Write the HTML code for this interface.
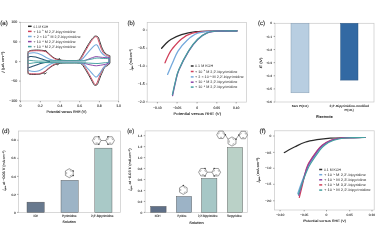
<!DOCTYPE html><html><head><meta charset="utf-8"><style>html,body{margin:0;padding:0;background:#fff;width:380px;height:245px;overflow:hidden}svg{display:block}</style></head><body>
<svg width="380" height="245" viewBox="0 0 380 245" text-rendering="geometricPrecision" font-family='"Liberation Sans", sans-serif'>
<defs><filter id="bg" x="-5%" y="-5%" width="110%" height="110%"><feGaussianBlur stdDeviation="0.42"/></filter><filter id="bt" x="-5%" y="-5%" width="110%" height="110%"><feGaussianBlur stdDeviation="0.32"/></filter></defs>
<rect width="380" height="245" fill="#fff"/>
<g filter="url(#bg)">
<rect x="20.4" y="22.5" width="98.3" height="78.5" fill="none" stroke="#c8c8c8" stroke-width="0.7"/>
<line x1="19.1" y1="22.3" x2="20.4" y2="22.3" stroke="#333" stroke-width="0.45"/>
<line x1="19.1" y1="41.9" x2="20.4" y2="41.9" stroke="#333" stroke-width="0.45"/>
<line x1="19.1" y1="61.6" x2="20.4" y2="61.6" stroke="#333" stroke-width="0.45"/>
<line x1="19.1" y1="81.1" x2="20.4" y2="81.1" stroke="#333" stroke-width="0.45"/>
<line x1="19.1" y1="100.8" x2="20.4" y2="100.8" stroke="#333" stroke-width="0.45"/>
<line x1="20.5" y1="101" x2="20.5" y2="102.3" stroke="#333" stroke-width="0.45"/>
<line x1="40.3" y1="101" x2="40.3" y2="102.3" stroke="#333" stroke-width="0.45"/>
<line x1="60" y1="101" x2="60" y2="102.3" stroke="#333" stroke-width="0.45"/>
<line x1="79.7" y1="101" x2="79.7" y2="102.3" stroke="#333" stroke-width="0.45"/>
<line x1="99.4" y1="101" x2="99.4" y2="102.3" stroke="#333" stroke-width="0.45"/>
<line x1="118.6" y1="101" x2="118.6" y2="102.3" stroke="#333" stroke-width="0.45"/>
<path d="M28 53.35 C28.1 53.07 28.22 52.12 28.6 51.65 C28.98 51.18 28.97 50.82 30.3 50.55 C31.63 50.28 34.5 50.07 36.6 50.05 C38.7 50.03 41.32 50.25 42.9 50.45 C44.48 50.65 44.87 50.5 46.1 51.25 C47.33 52 48.9 53.8 50.3 54.95 C51.7 56.1 53.1 57.38 54.5 58.15 C55.9 58.92 57.3 59.18 58.7 59.55 C60.1 59.92 61.02 60.18 62.9 60.35 C64.78 60.52 67.48 60.55 70 60.55 C72.52 60.55 76.33 60.65 78 60.35 C79.67 60.05 79.1 59.98 80 58.75 C80.9 57.52 82.17 55.08 83.4 52.95 C84.63 50.82 86.07 48.17 87.4 45.95 C88.73 43.73 90.27 41.2 91.4 39.65 C92.53 38.1 93.53 37.25 94.2 36.65 C94.87 36.05 94.75 35.98 95.4 36.05 C96.05 36.12 97.37 36.13 98.1 37.05 C98.83 37.97 99.25 40 99.8 41.55 C100.35 43.1 100.75 44.72 101.4 46.35 C102.05 47.98 102.85 50.03 103.7 51.35 C104.55 52.67 105.47 53.52 106.5 54.25 C107.53 54.98 109.33 55.5 109.9 55.75 L109.9 63.05 C109.62 63.4 108.8 64.62 108.2 65.15 C107.6 65.68 106.97 65.78 106.3 66.25 C105.63 66.72 104.82 67.05 104.2 67.95 C103.58 68.85 103.17 70.37 102.6 71.65 C102.03 72.93 101.47 74.02 100.8 75.65 C100.13 77.28 99.2 79.95 98.6 81.45 C98 82.95 97.83 84.02 97.2 84.65 C96.57 85.28 95.38 85.32 94.8 85.25 C94.22 85.18 94.43 85.43 93.7 84.25 C92.97 83.07 91.62 80.33 90.4 78.15 C89.18 75.97 87.85 73.48 86.4 71.15 C84.95 68.82 83.1 65.5 81.7 64.15 C80.3 62.8 79.95 63.25 78 63.05 C76.05 62.85 72.52 62.95 70 62.95 C67.48 62.95 64.85 62.93 62.9 63.05 C60.95 63.17 59.52 63.43 58.3 63.65 C57.08 63.87 56.58 63.97 55.6 64.35 C54.62 64.73 53.63 65.17 52.4 65.95 C51.17 66.73 49.35 68.13 48.2 69.05 C47.05 69.97 46.38 70.77 45.5 71.45 C44.62 72.13 43.82 72.7 42.9 73.15 C41.98 73.6 41.05 73.93 40 74.15 C38.95 74.37 38.27 74.42 36.6 74.45 C34.93 74.48 31.33 74.47 30 74.35 C28.67 74.23 28.93 74.12 28.6 73.75 C28.27 73.38 28.1 72.42 28 72.15Z" fill="none" stroke="#2b2b2b" stroke-width="0.9" stroke-linejoin="round" stroke-linecap="round"/>
<path d="M44.3 51.2 L45.6 50.5 L46.9 51.6 M58.0 59.6 L59.3 58.3 L60.4 60.2 M43.7 73.4 L45.0 74.1 L46.3 72.8 M56.4 64.0 L57.7 65.0 L58.8 63.6" fill="none" stroke="#2b2b2b" stroke-width="0.85" stroke-linejoin="round" stroke-linecap="round"/>
<path d="M28 54 C28.1 53.72 28.22 52.77 28.6 52.3 C28.98 51.83 28.97 51.47 30.3 51.2 C31.63 50.93 34.5 50.72 36.6 50.7 C38.7 50.68 41.32 50.9 42.9 51.1 C44.48 51.3 44.87 51.15 46.1 51.9 C47.33 52.65 48.9 54.45 50.3 55.6 C51.7 56.75 53.1 58.03 54.5 58.8 C55.9 59.57 57.3 59.83 58.7 60.2 C60.1 60.57 61.02 60.83 62.9 61 C64.78 61.17 67.48 61.2 70 61.2 C72.52 61.2 76.23 61.3 78 61 C79.77 60.7 79.6 60.63 80.6 59.4 C81.6 58.17 82.77 55.73 84 53.6 C85.23 51.47 86.67 48.82 88 46.6 C89.33 44.38 90.87 41.85 92 40.3 C93.13 38.75 94.13 37.9 94.8 37.3 C95.47 36.7 95.58 36.63 96 36.7 C96.42 36.77 96.8 36.78 97.3 37.7 C97.8 38.62 98.45 40.65 99 42.2 C99.55 43.75 99.95 45.37 100.6 47 C101.25 48.63 102.05 50.68 102.9 52 C103.75 53.32 104.67 54.17 105.7 54.9 C106.73 55.63 108.53 56.15 109.1 56.4 L109.1 62.4 C108.82 62.75 108 63.97 107.4 64.5 C106.8 65.03 106.17 65.13 105.5 65.6 C104.83 66.07 104.02 66.4 103.4 67.3 C102.78 68.2 102.37 69.72 101.8 71 C101.23 72.28 100.67 73.37 100 75 C99.33 76.63 98.4 79.3 97.8 80.8 C97.2 82.3 96.8 83.37 96.4 84 C96 84.63 95.75 84.67 95.4 84.6 C95.05 84.53 95.03 84.78 94.3 83.6 C93.57 82.42 92.22 79.68 91 77.5 C89.78 75.32 88.45 72.83 87 70.5 C85.55 68.17 83.8 64.85 82.3 63.5 C80.8 62.15 80.05 62.6 78 62.4 C75.95 62.2 72.52 62.3 70 62.3 C67.48 62.3 64.85 62.28 62.9 62.4 C60.95 62.52 59.52 62.78 58.3 63 C57.08 63.22 56.58 63.32 55.6 63.7 C54.62 64.08 53.63 64.52 52.4 65.3 C51.17 66.08 49.35 67.48 48.2 68.4 C47.05 69.32 46.38 70.12 45.5 70.8 C44.62 71.48 43.82 72.05 42.9 72.5 C41.98 72.95 41.05 73.28 40 73.5 C38.95 73.72 38.27 73.77 36.6 73.8 C34.93 73.83 31.33 73.82 30 73.7 C28.67 73.58 28.93 73.47 28.6 73.1 C28.27 72.73 28.1 71.77 28 71.5Z" fill="none" stroke="#d0405a" stroke-width="0.9" stroke-linejoin="round" stroke-linecap="round"/>
<path d="M28 54.6 C28.17 54.38 27.92 53.6 29 53.3 C30.08 53 32.53 52.62 34.5 52.8 C36.47 52.98 38.68 53.53 40.8 54.4 C42.92 55.27 45.27 57.05 47.2 58 C49.13 58.95 50.77 59.6 52.4 60.1 C54.03 60.6 55.07 60.8 57 61 C58.93 61.2 60.83 61.27 64 61.3 C67.17 61.33 73.33 61.33 76 61.2 C78.67 61.07 78.87 60.93 80 60.5 C81.13 60.07 81.8 59.55 82.8 58.6 C83.8 57.65 84.8 56.2 86 54.8 C87.2 53.4 88.75 51.62 90 50.2 C91.25 48.78 92.6 47.18 93.5 46.3 C94.4 45.42 94.9 45.17 95.4 44.9 C95.9 44.63 96.13 44.58 96.5 44.7 C96.87 44.82 97.13 44.88 97.6 45.6 C98.07 46.32 98.73 47.92 99.3 49 C99.87 50.08 100.12 50.98 101 52.1 C101.88 53.22 103.6 54.9 104.6 55.7 C105.6 56.5 106.25 56.6 107 56.9 C107.75 57.2 108.75 57.4 109.1 57.5 L109.1 62.8 C108.58 63.17 107.12 63.92 106 65 C104.88 66.08 103.48 67.87 102.4 69.3 C101.32 70.73 100.33 72.43 99.5 73.6 C98.67 74.77 97.93 75.73 97.4 76.3 C96.87 76.87 96.65 76.92 96.3 77 C95.95 77.08 95.77 77.13 95.3 76.8 C94.83 76.47 94.3 75.87 93.5 75 C92.7 74.13 91.58 72.8 90.5 71.6 C89.42 70.4 88.08 69 87 67.8 C85.92 66.6 85 65.18 84 64.4 C83 63.62 82 63.42 81 63.1 C80 62.78 79.83 62.63 78 62.5 C76.17 62.37 73 62.35 70 62.3 C67 62.25 62.58 62.15 60 62.2 C57.42 62.25 56.47 62.08 54.5 62.6 C52.53 63.12 50.22 64.23 48.2 65.3 C46.18 66.37 43.93 68.08 42.4 69 C40.87 69.92 40.32 70.38 39 70.8 C37.68 71.22 36.2 71.53 34.5 71.5 C32.8 71.47 29.88 70.93 28.8 70.6 C27.72 70.27 28.13 69.68 28 69.5Z" fill="none" stroke="#74a9dc" stroke-width="1.05" stroke-linejoin="round" stroke-linecap="round"/>
<path d="M60 61.7 C63 61.67 74 61.65 78 61.5 C82 61.35 82 61.3 84 60.8 C86 60.3 88.17 59.17 90 58.5 C91.83 57.83 93.82 57.12 95 56.8 C96.18 56.48 96.27 56.55 97.1 56.6 C97.93 56.65 98.68 56.93 100 57.1 C101.32 57.27 103.48 57.48 105 57.6 C106.52 57.72 108.42 57.77 109.1 57.8" fill="none" stroke="#8a44a8" stroke-width="0.95" stroke-linejoin="round" stroke-linecap="round"/>
<path d="M60 62 C63 62.07 74 62.17 78 62.4 C82 62.63 82 63 84 63.4 C86 63.8 88.17 64.42 90 64.8 C91.83 65.18 93.67 65.57 95 65.7 C96.33 65.83 96.67 65.75 98 65.6 C99.33 65.45 101.5 65.1 103 64.8 C104.5 64.5 105.98 64.18 107 63.8 C108.02 63.42 108.75 62.72 109.1 62.5" fill="none" stroke="#8a44a8" stroke-width="0.95" stroke-linejoin="round" stroke-linecap="round"/>
<path d="M109.1 57.8 L109.1 62.5" fill="none" stroke="#8a44a8" stroke-width="0.9" stroke-linejoin="round" stroke-linecap="round"/>
<path d="M28 57.5 C28.38 57.33 29.03 56.58 30.3 56.5 C31.57 56.42 33.67 56.57 35.6 57 C37.53 57.43 39.8 58.42 41.9 59.1 C44 59.78 46.02 60.67 48.2 61.1 C50.38 61.53 53.03 61.6 55 61.7 C56.97 61.8 59.17 61.7 60 61.7" fill="none" stroke="#23506e" stroke-width="1.1" stroke-linejoin="round" stroke-linecap="round"/>
<path d="M28 67.9 C28.5 67.75 29.83 67.4 31 67 C32.17 66.6 33.53 66.05 35 65.5 C36.47 64.95 38.3 64.17 39.8 63.7 C41.3 63.23 42.6 62.97 44 62.7 C45.4 62.43 45.53 62.22 48.2 62.1 C50.87 61.98 58.03 62.02 60 62" fill="none" stroke="#23506e" stroke-width="1.1" stroke-linejoin="round" stroke-linecap="round"/>
<path d="M50 60.8 C55 60.7 60 60.6 70 60.6 C78 60.6 82 60.6 86 60.2 L86 62.9 C82 62.9 78 62.9 70 62.9 C60 62.9 55 62.8 50 62.7Z" fill="#9fd0d0" opacity="0.8"/>
<path d="M28 60.3 C28.5 60.33 29.67 60.38 31 60.5 C32.33 60.62 34.17 60.9 36 61 C37.83 61.1 39.67 61.13 42 61.1 C44.33 61.07 47 60.88 50 60.8 C53 60.72 55 60.63 60 60.6 C65 60.57 75.67 60.67 80 60.6 C84.33 60.53 84 60.47 86 60.2 C88 59.93 90.17 59.37 92 59 C93.83 58.63 95.33 58.1 97 58 C98.67 57.9 99.98 58.3 102 58.4 C104.02 58.5 107.92 58.57 109.1 58.6 L109.1 62.3 C108.25 62.38 105.85 62.6 104 62.8 C102.15 63 100 63.42 98 63.5 C96 63.58 94.17 63.4 92 63.3 C89.83 63.2 87.33 62.97 85 62.9 C82.67 62.83 82.17 62.9 78 62.9 C73.83 62.9 64.67 62.93 60 62.9 C55.33 62.87 53 62.77 50 62.7 C47 62.63 44.33 62.52 42 62.5 C39.67 62.48 37.83 62.47 36 62.6 C34.17 62.73 32.33 63.13 31 63.3 C29.67 63.47 28.5 63.55 28 63.6Z" fill="none" stroke="#45a0a0" stroke-width="0.95" stroke-linejoin="round" stroke-linecap="round"/>
<path d="M28 51.6 L28 73.8" fill="none" stroke="#8a8a8a" stroke-width="1.1" stroke-linejoin="round" stroke-linecap="round"/>
<line x1="28" y1="26.3" x2="31.6" y2="26.3" stroke="#2b2b2b" stroke-width="1.5"/>
<line x1="28" y1="31.4" x2="31.6" y2="31.4" stroke="#d0405a" stroke-width="1.5"/>
<line x1="28" y1="36.5" x2="31.6" y2="36.5" stroke="#74a9dc" stroke-width="1.5"/>
<line x1="28" y1="41.6" x2="31.6" y2="41.6" stroke="#8a44a8" stroke-width="1.5"/>
<line x1="28" y1="46.6" x2="31.6" y2="46.6" stroke="#45a0a0" stroke-width="1.5"/>
<rect x="147.2" y="22.6" width="99.4" height="79.5" fill="none" stroke="#c8c8c8" stroke-width="0.7"/>
<line x1="145.9" y1="30.1" x2="147.2" y2="30.1" stroke="#333" stroke-width="0.45"/>
<line x1="145.9" y1="48.2" x2="147.2" y2="48.2" stroke="#333" stroke-width="0.45"/>
<line x1="145.9" y1="66.1" x2="147.2" y2="66.1" stroke="#333" stroke-width="0.45"/>
<line x1="145.9" y1="84" x2="147.2" y2="84" stroke="#333" stroke-width="0.45"/>
<line x1="145.9" y1="101.9" x2="147.2" y2="101.9" stroke="#333" stroke-width="0.45"/>
<line x1="157.4" y1="102.1" x2="157.4" y2="103.4" stroke="#333" stroke-width="0.45"/>
<line x1="177.1" y1="102.1" x2="177.1" y2="103.4" stroke="#333" stroke-width="0.45"/>
<line x1="197.1" y1="102.1" x2="197.1" y2="103.4" stroke="#333" stroke-width="0.45"/>
<line x1="216.8" y1="102.1" x2="216.8" y2="103.4" stroke="#333" stroke-width="0.45"/>
<line x1="236.2" y1="102.1" x2="236.2" y2="103.4" stroke="#333" stroke-width="0.45"/>
<path d="M161.6 48.3 C162.25 47.58 163.97 45.47 165.5 44 C167.03 42.53 168.13 41.07 170.8 39.5 C173.47 37.93 177.32 35.9 181.5 34.6 C185.68 33.3 190.5 32.3 195.9 31.7 C201.3 31.1 207.05 31.15 213.9 31 C220.75 30.85 233.15 30.83 237 30.8" fill="none" stroke="#2b2b2b" stroke-width="1.3" stroke-linejoin="round" stroke-linecap="round"/>
<path d="M165 62.8 C165.58 61.5 167.23 57.4 168.5 55 C169.77 52.6 170.43 51.08 172.6 48.4 C174.77 45.72 178.22 41.43 181.5 38.9 C184.78 36.37 188.1 34.45 192.3 33.2 C196.5 31.95 199.25 31.8 206.7 31.4 C214.15 31 231.95 30.9 237 30.8" fill="none" stroke="#d0405a" stroke-width="1.3" stroke-linejoin="round" stroke-linecap="round"/>
<path d="M167.6 74.4 C168.42 72.5 170.77 66.88 172.5 63 C174.23 59.12 175.6 54.87 178 51.1 C180.4 47.33 183.62 43.38 186.9 40.4 C190.18 37.42 193.52 34.73 197.7 33.2 C201.88 31.67 205.45 31.6 212 31.2 C218.55 30.8 232.83 30.87 237 30.8" fill="none" stroke="#74a9dc" stroke-width="1.3" stroke-linejoin="round" stroke-linecap="round"/>
<path d="M172.6 95.6 C173.08 93.33 174.45 86.27 175.5 82 C176.55 77.73 176.7 75.15 178.9 70 C181.1 64.85 185.57 56.18 188.7 51.1 C191.83 46.02 194.7 42.48 197.7 39.5 C200.7 36.52 203.4 34.6 206.7 33.2 C210 31.8 212.45 31.5 217.5 31.1 C222.55 30.7 233.75 30.85 237 30.8" fill="none" stroke="#8a44a8" stroke-width="1.3" stroke-linejoin="round" stroke-linecap="round"/>
<path d="M172.4 94.6 C172.9 92.43 174.33 85.73 175.4 81.6 C176.47 77.47 176.6 74.92 178.8 69.8 C181 64.68 185.47 55.98 188.6 50.9 C191.73 45.82 194.6 42.27 197.6 39.3 C200.6 36.33 203.28 34.48 206.6 33.1 C209.92 31.72 212.43 31.38 217.5 31 C222.57 30.62 233.75 30.83 237 30.8" fill="none" stroke="#45a0a0" stroke-width="1.25" stroke-linejoin="round" stroke-linecap="round"/>
<line x1="190.8" y1="66" x2="193.6" y2="66" stroke="#2b2b2b" stroke-width="1.5"/>
<line x1="190.8" y1="71.5" x2="193.6" y2="71.5" stroke="#d0405a" stroke-width="1.5"/>
<line x1="190.8" y1="76.9" x2="193.6" y2="76.9" stroke="#74a9dc" stroke-width="1.5"/>
<line x1="190.8" y1="82.2" x2="193.6" y2="82.2" stroke="#8a44a8" stroke-width="1.5"/>
<line x1="190.8" y1="87.1" x2="193.6" y2="87.1" stroke="#45a0a0" stroke-width="1.5"/>
<rect x="275" y="23.3" width="99" height="78.7" fill="none" stroke="#c8c8c8" stroke-width="0.7"/>
<line x1="273.7" y1="23.3" x2="275" y2="23.3" stroke="#333" stroke-width="0.45"/>
<line x1="273.7" y1="36.42" x2="275" y2="36.42" stroke="#333" stroke-width="0.45"/>
<line x1="273.7" y1="49.54" x2="275" y2="49.54" stroke="#333" stroke-width="0.45"/>
<line x1="273.7" y1="62.66" x2="275" y2="62.66" stroke="#333" stroke-width="0.45"/>
<line x1="273.7" y1="75.78" x2="275" y2="75.78" stroke="#333" stroke-width="0.45"/>
<line x1="273.7" y1="88.9" x2="275" y2="88.9" stroke="#333" stroke-width="0.45"/>
<line x1="273.7" y1="102.02" x2="275" y2="102.02" stroke="#333" stroke-width="0.45"/>
<rect x="291.0" y="23.3" width="18.0" height="69.5" fill="#b8cee1" stroke="#7f97ad" stroke-width="0.45"/>
<rect x="340.6" y="23.3" width="17.4" height="56.8" fill="#3369a3" stroke="#24507f" stroke-width="0.45"/>
<rect x="18.4" y="131" width="102" height="81.4" fill="none" stroke="#c8c8c8" stroke-width="0.7"/>
<line x1="17.1" y1="212.4" x2="18.4" y2="212.4" stroke="#333" stroke-width="0.45"/>
<line x1="17.1" y1="194.4" x2="18.4" y2="194.4" stroke="#333" stroke-width="0.45"/>
<line x1="17.1" y1="176.4" x2="18.4" y2="176.4" stroke="#333" stroke-width="0.45"/>
<line x1="17.1" y1="158.3" x2="18.4" y2="158.3" stroke="#333" stroke-width="0.45"/>
<line x1="17.1" y1="140.2" x2="18.4" y2="140.2" stroke="#333" stroke-width="0.45"/>
<rect x="27" y="202.17" width="17.2" height="10.23" fill="#68798e" stroke="#4a4a4a" stroke-width="0.4"/>
<rect x="61" y="180.27" width="17.2" height="32.13" fill="#9db4c6" stroke="#4a4a4a" stroke-width="0.4"/>
<rect x="94.8" y="148.15" width="17.2" height="64.25" fill="#a9c9c7" stroke="#4a4a4a" stroke-width="0.4"/>
<path d="M73.2 175.45 L69.3 177.7 L65.4 175.45 L65.4 170.95 L69.3 168.7 L73.2 170.95Z" fill="none" stroke="#3c3c3c" stroke-width="0.5" stroke-linejoin="round"/>
<path d="M71.55 174.96 L69.7 176.03 M66.65 174.27 L66.65 172.13 M69.7 170.37 L71.55 171.44 " fill="none" stroke="#3c3c3c" stroke-width="0.4" stroke-linejoin="round"/>
<circle cx="73.2" cy="170.95" r="0.75" fill="#3a3a3a"/>
<circle cx="73.2" cy="175.45" r="0.75" fill="#3a3a3a"/>
<path d="M101 140.5 L98.85 144.22 L94.55 144.22 L92.4 140.5 L94.55 136.78 L98.85 136.78Z" fill="none" stroke="#3c3c3c" stroke-width="0.5" stroke-linejoin="round"/>
<path d="M97.72 143.03 L95.68 143.03 M94 140.12 L95.02 138.35 M98.38 138.35 L99.4 140.12 " fill="none" stroke="#3c3c3c" stroke-width="0.4" stroke-linejoin="round"/>
<circle cx="98.85" cy="136.78" r="0.75" fill="#3a3a3a"/>
<circle cx="98.85" cy="144.22" r="0.75" fill="#3a3a3a"/>
<path d="M114.4 140.5 L112.25 144.22 L107.95 144.22 L105.8 140.5 L107.95 136.78 L112.25 136.78Z" fill="none" stroke="#3c3c3c" stroke-width="0.5" stroke-linejoin="round"/>
<path d="M111.12 143.03 L109.08 143.03 M107.4 140.12 L108.42 138.35 M111.78 138.35 L112.8 140.12 " fill="none" stroke="#3c3c3c" stroke-width="0.4" stroke-linejoin="round"/>
<circle cx="107.95" cy="136.78" r="0.75" fill="#3a3a3a"/>
<circle cx="107.95" cy="144.22" r="0.75" fill="#3a3a3a"/>
<path d="M101 140.5 L105.8 140.5" fill="none" stroke="#3c3c3c" stroke-width="0.5" stroke-linejoin="round"/>
<rect x="145.1" y="130.9" width="102.2" height="81.5" fill="none" stroke="#c8c8c8" stroke-width="0.7"/>
<line x1="143.8" y1="212.4" x2="145.1" y2="212.4" stroke="#333" stroke-width="0.45"/>
<line x1="143.8" y1="201.44" x2="145.1" y2="201.44" stroke="#333" stroke-width="0.45"/>
<line x1="143.8" y1="190.48" x2="145.1" y2="190.48" stroke="#333" stroke-width="0.45"/>
<line x1="143.8" y1="179.52" x2="145.1" y2="179.52" stroke="#333" stroke-width="0.45"/>
<line x1="143.8" y1="168.56" x2="145.1" y2="168.56" stroke="#333" stroke-width="0.45"/>
<line x1="143.8" y1="157.6" x2="145.1" y2="157.6" stroke="#333" stroke-width="0.45"/>
<line x1="143.8" y1="146.64" x2="145.1" y2="146.64" stroke="#333" stroke-width="0.45"/>
<line x1="143.8" y1="135.68" x2="145.1" y2="135.68" stroke="#333" stroke-width="0.45"/>
<rect x="150.7" y="206.37" width="15.4" height="6.03" fill="#5f6f88" stroke="#4a4a4a" stroke-width="0.4"/>
<rect x="176.3" y="196.4" width="15.4" height="16" fill="#9cb3c6" stroke="#4a4a4a" stroke-width="0.4"/>
<rect x="201.5" y="178.42" width="15.4" height="33.98" fill="#a6c7c6" stroke="#4a4a4a" stroke-width="0.4"/>
<rect x="227.3" y="147.46" width="15.4" height="64.94" fill="#bad1c7" stroke="#4a4a4a" stroke-width="0.4"/>
<path d="M187.11 192.2 L183.3 194.4 L179.49 192.2 L179.49 187.8 L183.3 185.6 L187.11 187.8Z" fill="none" stroke="#3c3c3c" stroke-width="0.5" stroke-linejoin="round"/>
<path d="M185.5 191.72 L183.69 192.77 M180.71 191.05 L180.71 188.95 M183.69 187.23 L185.5 188.28 " fill="none" stroke="#3c3c3c" stroke-width="0.4" stroke-linejoin="round"/>
<circle cx="183.3" cy="185.6" r="0.75" fill="#3a3a3a"/>
<path d="M207.2 172.2 L205.05 175.92 L200.75 175.92 L198.6 172.2 L200.75 168.48 L205.05 168.48Z" fill="none" stroke="#3c3c3c" stroke-width="0.5" stroke-linejoin="round"/>
<path d="M203.92 174.73 L201.88 174.73 M200.2 171.82 L201.22 170.05 M204.58 170.05 L205.6 171.82 " fill="none" stroke="#3c3c3c" stroke-width="0.4" stroke-linejoin="round"/>
<circle cx="205.05" cy="168.48" r="0.75" fill="#3a3a3a"/>
<circle cx="205.05" cy="175.92" r="0.75" fill="#3a3a3a"/>
<path d="M220.6 172.2 L218.45 175.92 L214.15 175.92 L212 172.2 L214.15 168.48 L218.45 168.48Z" fill="none" stroke="#3c3c3c" stroke-width="0.5" stroke-linejoin="round"/>
<path d="M217.32 174.73 L215.28 174.73 M213.6 171.82 L214.62 170.05 M217.98 170.05 L219 171.82 " fill="none" stroke="#3c3c3c" stroke-width="0.4" stroke-linejoin="round"/>
<circle cx="214.15" cy="168.48" r="0.75" fill="#3a3a3a"/>
<circle cx="214.15" cy="175.92" r="0.75" fill="#3a3a3a"/>
<path d="M207.2 172.2 L212 172.2" fill="none" stroke="#3c3c3c" stroke-width="0.5" stroke-linejoin="round"/>
<path d="M235.98 143.8 L232 146.1 L228.02 143.8 L228.02 139.2 L232 136.9 L235.98 139.2Z" fill="none" stroke="#3c3c3c" stroke-width="0.5" stroke-linejoin="round"/>
<path d="M234.3 143.3 L232.41 144.39 M229.29 142.59 L229.29 140.41 M232.41 138.61 L234.3 139.7 " fill="none" stroke="#3c3c3c" stroke-width="0.4" stroke-linejoin="round"/>
<circle cx="235.98" cy="139.2" r="0.75" fill="#3a3a3a"/>
<path d="M225.3 134.8 L223.15 138.52 L218.85 138.52 L216.7 134.8 L218.85 131.08 L223.15 131.08Z" fill="none" stroke="#3c3c3c" stroke-width="0.5" stroke-linejoin="round"/>
<path d="M222.02 137.33 L219.98 137.33 M218.3 134.42 L219.32 132.65 M222.68 132.65 L223.7 134.42 " fill="none" stroke="#3c3c3c" stroke-width="0.4" stroke-linejoin="round"/>
<circle cx="225.3" cy="134.8" r="0.75" fill="#3a3a3a"/>
<path d="M247.5 135 L245.35 138.72 L241.05 138.72 L238.9 135 L241.05 131.28 L245.35 131.28Z" fill="none" stroke="#3c3c3c" stroke-width="0.5" stroke-linejoin="round"/>
<path d="M244.22 137.53 L242.18 137.53 M240.5 134.62 L241.52 132.85 M244.88 132.85 L245.9 134.62 " fill="none" stroke="#3c3c3c" stroke-width="0.4" stroke-linejoin="round"/>
<circle cx="238.9" cy="135" r="0.75" fill="#3a3a3a"/>
<path d="M228.0 139.2 L225.3 134.8 M236.0 139.2 L238.9 135.0" fill="none" stroke="#3c3c3c" stroke-width="0.5" stroke-linejoin="round"/>
<rect x="274.4" y="130.8" width="99.8" height="79.2" fill="none" stroke="#c8c8c8" stroke-width="0.7"/>
<line x1="273.1" y1="136" x2="274.4" y2="136" stroke="#333" stroke-width="0.45"/>
<line x1="273.1" y1="152.4" x2="274.4" y2="152.4" stroke="#333" stroke-width="0.45"/>
<line x1="273.1" y1="168.3" x2="274.4" y2="168.3" stroke="#333" stroke-width="0.45"/>
<line x1="273.1" y1="184.3" x2="274.4" y2="184.3" stroke="#333" stroke-width="0.45"/>
<line x1="273.1" y1="200.8" x2="274.4" y2="200.8" stroke="#333" stroke-width="0.45"/>
<line x1="280.1" y1="210" x2="280.1" y2="211.3" stroke="#333" stroke-width="0.45"/>
<line x1="304.2" y1="210" x2="304.2" y2="211.3" stroke="#333" stroke-width="0.45"/>
<line x1="326.5" y1="210" x2="326.5" y2="211.3" stroke="#333" stroke-width="0.45"/>
<line x1="349.7" y1="210" x2="349.7" y2="211.3" stroke="#333" stroke-width="0.45"/>
<line x1="372" y1="210" x2="372" y2="211.3" stroke="#333" stroke-width="0.45"/>
<path d="M284.3 152.5 C286.08 151.55 291.55 148.52 295 146.8 C298.45 145.08 301.33 143.38 305 142.2 C308.67 141.02 312.75 140.37 317 139.7 C321.25 139.03 325.83 138.53 330.5 138.2 C335.17 137.87 339.23 137.82 345 137.7 C350.77 137.58 361.75 137.53 365.1 137.5" fill="none" stroke="#2b2b2b" stroke-width="1.2" stroke-linejoin="round" stroke-linecap="round"/>
<path d="M297.8 193.5 C298.43 191.67 300.13 186.42 301.6 182.5 C303.07 178.58 305.2 173.25 306.6 170 C308 166.75 308.13 166.12 310 163 C311.87 159.88 315.58 154.27 317.8 151.3 C320.02 148.33 320.9 147.03 323.3 145.2 C325.7 143.37 328.97 141.5 332.2 140.3 C335.43 139.1 339.07 138.45 342.7 138 C346.33 137.55 350.27 137.68 354 137.6 C357.73 137.52 363.25 137.52 365.1 137.5" fill="none" stroke="#74a9dc" stroke-width="1.2" stroke-linejoin="round" stroke-linecap="round"/>
<path d="M299.3 197.5 C299.83 195.33 301.38 189.08 302.5 184.5 C303.62 179.92 304.97 173.58 306 170 C307.03 166.42 306.93 166.12 308.7 163 C310.47 159.88 314.37 154.27 316.6 151.3 C318.83 148.33 319.75 147.03 322.1 145.2 C324.45 143.37 327.63 141.5 330.7 140.3 C333.77 139.1 336.95 138.45 340.5 138 C344.05 137.55 347.9 137.68 352 137.6 C356.1 137.52 362.92 137.52 365.1 137.5" fill="none" stroke="#d0405a" stroke-width="1.2" stroke-linejoin="round" stroke-linecap="round"/>
<path d="M298.8 195.5 C299.37 193.5 300.95 187.75 302.2 183.5 C303.45 179.25 305.12 173.42 306.3 170 C307.48 166.58 307.48 166.12 309.3 163 C311.12 159.88 314.97 154.27 317.2 151.3 C319.43 148.33 320.33 147.03 322.7 145.2 C325.07 143.37 328.27 141.5 331.4 140.3 C334.53 139.1 337.9 138.45 341.5 138 C345.1 137.55 349.07 137.68 353 137.6 C356.93 137.52 363.08 137.52 365.1 137.5" fill="none" stroke="#8a44a8" stroke-width="1.2" stroke-linejoin="round" stroke-linecap="round"/>
<path d="M298.3 194.5 C299.02 192.42 301.1 186.08 302.6 182 C304.1 177.92 305.9 173.17 307.3 170 C308.7 166.83 309.05 166.12 311 163 C312.95 159.88 316.73 154.27 319 151.3 C321.27 148.33 322.15 147.03 324.6 145.2 C327.05 143.37 330.3 141.5 333.7 140.3 C337.1 139.1 341.45 138.45 345 138 C348.55 137.55 351.65 137.68 355 137.6 C358.35 137.52 363.42 137.52 365.1 137.5" fill="none" stroke="#45a0a0" stroke-width="1.15" stroke-linejoin="round" stroke-linecap="round"/>
<line x1="319.2" y1="169.5" x2="322.2" y2="169.5" stroke="#2b2b2b" stroke-width="1.5"/>
<line x1="319.2" y1="174.7" x2="322.2" y2="174.7" stroke="#74a9dc" stroke-width="1.5"/>
<line x1="319.2" y1="179.8" x2="322.2" y2="179.8" stroke="#8a44a8" stroke-width="1.5"/>
<line x1="319.2" y1="184.9" x2="322.2" y2="184.9" stroke="#d0405a" stroke-width="1.5"/>
<line x1="319.2" y1="190.1" x2="322.2" y2="190.1" stroke="#45a0a0" stroke-width="1.5"/>
</g>
<g filter="url(#bt)">
<text x="17.3" y="23.3" font-size="3.6" text-anchor="end" fill="#1e1e1e" stroke="#1e1e1e" stroke-width="0.08">100</text>
<text x="17.3" y="42.9" font-size="3.6" text-anchor="end" fill="#1e1e1e" stroke="#1e1e1e" stroke-width="0.08">50</text>
<text x="17.3" y="62.6" font-size="3.6" text-anchor="end" fill="#1e1e1e" stroke="#1e1e1e" stroke-width="0.08">0</text>
<text x="17.3" y="82.1" font-size="3.6" text-anchor="end" fill="#1e1e1e" stroke="#1e1e1e" stroke-width="0.08">−50</text>
<text x="17.3" y="101.8" font-size="3.6" text-anchor="end" fill="#1e1e1e" stroke="#1e1e1e" stroke-width="0.08">−100</text>
<text x="20.5" y="106.86" font-size="3.5" text-anchor="middle" fill="#1e1e1e" stroke="#1e1e1e" stroke-width="0.08">0</text>
<text x="40.3" y="106.86" font-size="3.5" text-anchor="middle" fill="#1e1e1e" stroke="#1e1e1e" stroke-width="0.08">0.2</text>
<text x="60" y="106.86" font-size="3.5" text-anchor="middle" fill="#1e1e1e" stroke="#1e1e1e" stroke-width="0.08">0.4</text>
<text x="79.7" y="106.86" font-size="3.5" text-anchor="middle" fill="#1e1e1e" stroke="#1e1e1e" stroke-width="0.08">0.6</text>
<text x="99.4" y="106.86" font-size="3.5" text-anchor="middle" fill="#1e1e1e" stroke="#1e1e1e" stroke-width="0.08">0.8</text>
<text x="118.6" y="106.86" font-size="3.5" text-anchor="middle" fill="#1e1e1e" stroke="#1e1e1e" stroke-width="0.08">1.0</text>
<text x="46.4" y="113" font-size="3.6" text-anchor="start" fill="#1e1e1e" stroke="#1e1e1e" stroke-width="0.08" textLength="40" lengthAdjust="spacingAndGlyphs">Potential versus RHE (V)</text>
<text x="0" y="0" font-size="3.6" text-anchor="middle" fill="#1e1e1e" stroke="#1e1e1e" stroke-width="0.08" textLength="21" lengthAdjust="spacingAndGlyphs" transform="translate(3.9 62) rotate(-90)"><tspan font-style="italic">j</tspan> (µA cm<tspan font-size="2.4" dy="-1.3">−2</tspan><tspan dy="1.3">)</tspan></text>
<text x="0.2" y="24.7" font-size="6.0" fill="#333" stroke="#333" stroke-width="0.16" textLength="7.5" lengthAdjust="spacingAndGlyphs">(a)</text>
<text x="33.6" y="27.56" font-size="3.5" text-anchor="start" fill="#2a2a2a" textLength="14.5" lengthAdjust="spacingAndGlyphs">0.1 M KOH</text>
<text x="33.6" y="32.66" font-size="3.5" text-anchor="start" fill="#2a2a2a" textLength="42" lengthAdjust="spacingAndGlyphs">+ 10<tspan font-size="2.3" dy="-1.3">−5</tspan><tspan dy="1.3"> M 2,2′-bipyrimidine</tspan></text>
<text x="33.6" y="37.76" font-size="3.5" text-anchor="start" fill="#2a2a2a" textLength="46.8" lengthAdjust="spacingAndGlyphs">+ 2 × 10<tspan font-size="2.3" dy="-1.3">−5</tspan><tspan dy="1.3"> M 2,2′-bipyrimidine</tspan></text>
<text x="33.6" y="42.86" font-size="3.5" text-anchor="start" fill="#2a2a2a" textLength="42" lengthAdjust="spacingAndGlyphs">+ 10<tspan font-size="2.3" dy="-1.3">−4</tspan><tspan dy="1.3"> M 2,2′-bipyrimidine</tspan></text>
<text x="33.6" y="47.86" font-size="3.5" text-anchor="start" fill="#2a2a2a" textLength="42" lengthAdjust="spacingAndGlyphs">+ 10<tspan font-size="2.3" dy="-1.3">−3</tspan><tspan dy="1.3"> M 2,2′-bipyrimidine</tspan></text>
<text x="144.6" y="31.36" font-size="3.5" text-anchor="end" fill="#1e1e1e" stroke="#1e1e1e" stroke-width="0.08">0</text>
<text x="144.6" y="49.46" font-size="3.5" text-anchor="end" fill="#1e1e1e" stroke="#1e1e1e" stroke-width="0.08">−0.5</text>
<text x="144.6" y="67.36" font-size="3.5" text-anchor="end" fill="#1e1e1e" stroke="#1e1e1e" stroke-width="0.08">−1.0</text>
<text x="144.6" y="85.26" font-size="3.5" text-anchor="end" fill="#1e1e1e" stroke="#1e1e1e" stroke-width="0.08">−1.5</text>
<text x="144.6" y="103.16" font-size="3.5" text-anchor="end" fill="#1e1e1e" stroke="#1e1e1e" stroke-width="0.08">−2.0</text>
<text x="157.4" y="108.52" font-size="3.4" text-anchor="middle" fill="#1e1e1e" stroke="#1e1e1e" stroke-width="0.08">−0.10</text>
<text x="177.1" y="108.52" font-size="3.4" text-anchor="middle" fill="#1e1e1e" stroke="#1e1e1e" stroke-width="0.08">−0.05</text>
<text x="197.1" y="108.52" font-size="3.4" text-anchor="middle" fill="#1e1e1e" stroke="#1e1e1e" stroke-width="0.08">0</text>
<text x="216.8" y="108.52" font-size="3.4" text-anchor="middle" fill="#1e1e1e" stroke="#1e1e1e" stroke-width="0.08">0.05</text>
<text x="236.2" y="108.52" font-size="3.4" text-anchor="middle" fill="#1e1e1e" stroke="#1e1e1e" stroke-width="0.08">0.10</text>
<text x="173.5" y="114.63" font-size="3.7" text-anchor="start" fill="#1e1e1e" stroke="#1e1e1e" stroke-width="0.08" textLength="47.6" lengthAdjust="spacingAndGlyphs">Potential versus RHE (V)</text>
<text x="0" y="0" font-size="3.6" text-anchor="middle" fill="#1e1e1e" stroke="#1e1e1e" stroke-width="0.08" textLength="21.4" lengthAdjust="spacingAndGlyphs" transform="translate(131.9 59.4) rotate(-90)"><tspan font-style="italic">j</tspan><tspan font-size="2.4" dy="0.9">geo</tspan><tspan dy="-0.9"> (mA cm</tspan><tspan font-size="2.4" dy="-1.3">−2</tspan><tspan dy="1.3">)</tspan></text>
<text x="127.5" y="24.8" font-size="6.0" fill="#333" stroke="#333" stroke-width="0.16" textLength="7.3" lengthAdjust="spacingAndGlyphs">(b)</text>
<text x="195.1" y="67.26" font-size="3.5" text-anchor="start" fill="#2a2a2a" textLength="17.9" lengthAdjust="spacingAndGlyphs">0.1 M KOH</text>
<text x="195.1" y="72.76" font-size="3.5" text-anchor="start" fill="#2a2a2a" textLength="42.2" lengthAdjust="spacingAndGlyphs">+ 10<tspan font-size="2.3" dy="-1.3">−5</tspan><tspan dy="1.3"> M 2,2′-bipyrimidine</tspan></text>
<text x="195.1" y="78.16" font-size="3.5" text-anchor="start" fill="#2a2a2a" textLength="48.5" lengthAdjust="spacingAndGlyphs">+ 2 × 10<tspan font-size="2.3" dy="-1.3">−5</tspan><tspan dy="1.3"> M 2,2′-bipyrimidine</tspan></text>
<text x="195.1" y="83.46" font-size="3.5" text-anchor="start" fill="#2a2a2a" textLength="42.2" lengthAdjust="spacingAndGlyphs">+ 10<tspan font-size="2.3" dy="-1.3">−4</tspan><tspan dy="1.3"> M 2,2′-bipyrimidine</tspan></text>
<text x="195.1" y="88.36" font-size="3.5" text-anchor="start" fill="#2a2a2a" textLength="42.2" lengthAdjust="spacingAndGlyphs">+ 10<tspan font-size="2.3" dy="-1.3">−3</tspan><tspan dy="1.3"> M 2,2′-bipyrimidine</tspan></text>
<text x="272" y="24.45" font-size="3.2" text-anchor="end" fill="#1e1e1e" stroke="#1e1e1e" stroke-width="0.08">0</text>
<text x="272" y="37.57" font-size="3.2" text-anchor="end" fill="#1e1e1e" stroke="#1e1e1e" stroke-width="0.08">−0.1</text>
<text x="272" y="50.69" font-size="3.2" text-anchor="end" fill="#1e1e1e" stroke="#1e1e1e" stroke-width="0.08">−0.2</text>
<text x="272" y="63.81" font-size="3.2" text-anchor="end" fill="#1e1e1e" stroke="#1e1e1e" stroke-width="0.08">−0.3</text>
<text x="272" y="76.93" font-size="3.2" text-anchor="end" fill="#1e1e1e" stroke="#1e1e1e" stroke-width="0.08">−0.4</text>
<text x="272" y="90.05" font-size="3.2" text-anchor="end" fill="#1e1e1e" stroke="#1e1e1e" stroke-width="0.08">−0.5</text>
<text x="272" y="103.17" font-size="3.2" text-anchor="end" fill="#1e1e1e" stroke="#1e1e1e" stroke-width="0.08">−0.6</text>
<text x="291.8" y="107.38" font-size="3" text-anchor="start" fill="#1e1e1e" stroke="#1e1e1e" stroke-width="0.08" textLength="16.6" lengthAdjust="spacingAndGlyphs">Bare Pt(111)</text>
<text x="329.5" y="107.38" font-size="3" text-anchor="start" fill="#1e1e1e" stroke="#1e1e1e" stroke-width="0.08" textLength="39.5" lengthAdjust="spacingAndGlyphs">2,2′-Bipyrimidine-modified</text>
<text x="344.5" y="111.08" font-size="3" text-anchor="start" fill="#1e1e1e" stroke="#1e1e1e" stroke-width="0.08" textLength="9.2" lengthAdjust="spacingAndGlyphs">Pt(111)</text>
<text x="316" y="117.76" font-size="3.5" text-anchor="start" fill="#1e1e1e" stroke="#1e1e1e" stroke-width="0.08" textLength="16.6" lengthAdjust="spacingAndGlyphs">Electrode</text>
<text x="0" y="0" font-size="3.4" text-anchor="middle" fill="#1e1e1e" stroke="#1e1e1e" stroke-width="0.08" textLength="10.8" lengthAdjust="spacingAndGlyphs" transform="translate(261.92 62.8) rotate(-90)"><tspan font-style="italic">E</tspan> (V)</text>
<text x="258" y="24.7" font-size="6.0" fill="#333" stroke="#333" stroke-width="0.16" textLength="7.1" lengthAdjust="spacingAndGlyphs">(c)</text>
<text x="15.9" y="213.55" font-size="3.2" text-anchor="end" fill="#1e1e1e" stroke="#1e1e1e" stroke-width="0.08">0</text>
<text x="15.9" y="195.55" font-size="3.2" text-anchor="end" fill="#1e1e1e" stroke="#1e1e1e" stroke-width="0.08">0.2</text>
<text x="15.9" y="177.55" font-size="3.2" text-anchor="end" fill="#1e1e1e" stroke="#1e1e1e" stroke-width="0.08">0.4</text>
<text x="15.9" y="159.45" font-size="3.2" text-anchor="end" fill="#1e1e1e" stroke="#1e1e1e" stroke-width="0.08">0.6</text>
<text x="15.9" y="141.35" font-size="3.2" text-anchor="end" fill="#1e1e1e" stroke="#1e1e1e" stroke-width="0.08">0.8</text>
<text x="33.4" y="216.52" font-size="3.1" text-anchor="start" fill="#1e1e1e" stroke="#1e1e1e" stroke-width="0.08" textLength="4.8" lengthAdjust="spacingAndGlyphs">KOH</text>
<text x="62.1" y="216.52" font-size="3.1" text-anchor="start" fill="#1e1e1e" stroke="#1e1e1e" stroke-width="0.08" textLength="14.5" lengthAdjust="spacingAndGlyphs">Pyrimidine</text>
<text x="91" y="216.52" font-size="3.1" text-anchor="start" fill="#1e1e1e" stroke="#1e1e1e" stroke-width="0.08" textLength="22.4" lengthAdjust="spacingAndGlyphs">2,2′-Bipyrimidine</text>
<text x="62.6" y="223.46" font-size="3.5" text-anchor="start" fill="#1e1e1e" stroke="#1e1e1e" stroke-width="0.08" textLength="13.2" lengthAdjust="spacingAndGlyphs">Solution</text>
<text x="0" y="0" font-size="3.5" text-anchor="middle" fill="#1e1e1e" stroke="#1e1e1e" stroke-width="0.08" textLength="40" lengthAdjust="spacingAndGlyphs" transform="translate(5.46 170.5) rotate(-90)"><tspan font-style="italic">j</tspan><tspan font-size="2.2" dy="0.9">geo</tspan><tspan dy="-0.9"> at −0.03 V (mA cm</tspan><tspan font-size="2.2" dy="-1.2">−2</tspan><tspan dy="1.2">)</tspan></text>
<text x="2" y="133.2" font-size="6.0" fill="#333" stroke="#333" stroke-width="0.16" textLength="7.6" lengthAdjust="spacingAndGlyphs">(d)</text>
<text x="142.2" y="213.55" font-size="3.2" text-anchor="end" fill="#1e1e1e" stroke="#1e1e1e" stroke-width="0.08">0</text>
<text x="142.2" y="202.59" font-size="3.2" text-anchor="end" fill="#1e1e1e" stroke="#1e1e1e" stroke-width="0.08">0.2</text>
<text x="142.2" y="191.63" font-size="3.2" text-anchor="end" fill="#1e1e1e" stroke="#1e1e1e" stroke-width="0.08">0.4</text>
<text x="142.2" y="180.67" font-size="3.2" text-anchor="end" fill="#1e1e1e" stroke="#1e1e1e" stroke-width="0.08">0.6</text>
<text x="142.2" y="169.71" font-size="3.2" text-anchor="end" fill="#1e1e1e" stroke="#1e1e1e" stroke-width="0.08">0.8</text>
<text x="142.2" y="158.75" font-size="3.2" text-anchor="end" fill="#1e1e1e" stroke="#1e1e1e" stroke-width="0.08">1.0</text>
<text x="142.2" y="147.79" font-size="3.2" text-anchor="end" fill="#1e1e1e" stroke="#1e1e1e" stroke-width="0.08">1.2</text>
<text x="142.2" y="136.83" font-size="3.2" text-anchor="end" fill="#1e1e1e" stroke="#1e1e1e" stroke-width="0.08">1.4</text>
<text x="154.7" y="216.92" font-size="3.1" text-anchor="start" fill="#1e1e1e" stroke="#1e1e1e" stroke-width="0.08" textLength="5.7" lengthAdjust="spacingAndGlyphs">KOH</text>
<text x="177.6" y="216.92" font-size="3.1" text-anchor="start" fill="#1e1e1e" stroke="#1e1e1e" stroke-width="0.08" textLength="8.8" lengthAdjust="spacingAndGlyphs">Pyridine</text>
<text x="198" y="216.92" font-size="3.1" text-anchor="start" fill="#1e1e1e" stroke="#1e1e1e" stroke-width="0.08" textLength="19.4" lengthAdjust="spacingAndGlyphs">2,2′-Bipyrimidine</text>
<text x="227" y="216.92" font-size="3.1" text-anchor="start" fill="#1e1e1e" stroke="#1e1e1e" stroke-width="0.08" textLength="14.7" lengthAdjust="spacingAndGlyphs">Terpyridine</text>
<text x="189.2" y="223.86" font-size="3.5" text-anchor="start" fill="#1e1e1e" stroke="#1e1e1e" stroke-width="0.08" textLength="14.6" lengthAdjust="spacingAndGlyphs">Solution</text>
<text x="0" y="0" font-size="3.5" text-anchor="middle" fill="#1e1e1e" stroke="#1e1e1e" stroke-width="0.08" textLength="42" lengthAdjust="spacingAndGlyphs" transform="translate(131.46 169.5) rotate(-90)"><tspan font-style="italic">j</tspan><tspan font-size="2.2" dy="0.9">geo</tspan><tspan dy="-0.9"> at −0.03 V (mA cm</tspan><tspan font-size="2.2" dy="-1.2">−2</tspan><tspan dy="1.2">)</tspan></text>
<text x="127.2" y="133.2" font-size="6.0" fill="#333" stroke="#333" stroke-width="0.16" textLength="7" lengthAdjust="spacingAndGlyphs">(e)</text>
<text x="271.4" y="137.15" font-size="3.2" text-anchor="end" fill="#1e1e1e" stroke="#1e1e1e" stroke-width="0.08">0</text>
<text x="271.4" y="153.55" font-size="3.2" text-anchor="end" fill="#1e1e1e" stroke="#1e1e1e" stroke-width="0.08">−0.5</text>
<text x="271.4" y="169.45" font-size="3.2" text-anchor="end" fill="#1e1e1e" stroke="#1e1e1e" stroke-width="0.08">−1.0</text>
<text x="271.4" y="185.45" font-size="3.2" text-anchor="end" fill="#1e1e1e" stroke="#1e1e1e" stroke-width="0.08">−1.5</text>
<text x="271.4" y="201.95" font-size="3.2" text-anchor="end" fill="#1e1e1e" stroke="#1e1e1e" stroke-width="0.08">−2.0</text>
<text x="280.1" y="215.89" font-size="3.3" text-anchor="middle" fill="#1e1e1e" stroke="#1e1e1e" stroke-width="0.08">−0.10</text>
<text x="304.2" y="215.89" font-size="3.3" text-anchor="middle" fill="#1e1e1e" stroke="#1e1e1e" stroke-width="0.08">−0.05</text>
<text x="326.5" y="215.89" font-size="3.3" text-anchor="middle" fill="#1e1e1e" stroke="#1e1e1e" stroke-width="0.08">0</text>
<text x="349.7" y="215.89" font-size="3.3" text-anchor="middle" fill="#1e1e1e" stroke="#1e1e1e" stroke-width="0.08">0.05</text>
<text x="372" y="215.89" font-size="3.3" text-anchor="middle" fill="#1e1e1e" stroke="#1e1e1e" stroke-width="0.08">0.10</text>
<text x="303.3" y="221.72" font-size="3.4" text-anchor="start" fill="#1e1e1e" stroke="#1e1e1e" stroke-width="0.08" textLength="42.7" lengthAdjust="spacingAndGlyphs">Potential versus RHE (V)</text>
<text x="0" y="0" font-size="3.5" text-anchor="middle" fill="#1e1e1e" stroke="#1e1e1e" stroke-width="0.08" textLength="24.7" lengthAdjust="spacingAndGlyphs" transform="translate(259.16 169.9) rotate(-90)"><tspan font-style="italic">j</tspan><tspan font-size="2.4" dy="0.9">geo</tspan><tspan dy="-0.9"> (mA cm</tspan><tspan font-size="2.4" dy="-1.3">−2</tspan><tspan dy="1.3">)</tspan></text>
<text x="259.5" y="133" font-size="6.0" fill="#333" stroke="#333" stroke-width="0.16" textLength="6.3" lengthAdjust="spacingAndGlyphs">(f)</text>
<text x="323.9" y="170.76" font-size="3.5" text-anchor="start" fill="#2a2a2a" textLength="17.1" lengthAdjust="spacingAndGlyphs">0.1 M KOH</text>
<text x="323.9" y="175.96" font-size="3.5" text-anchor="start" fill="#2a2a2a" textLength="41.9" lengthAdjust="spacingAndGlyphs">+ 10<tspan font-size="2.3" dy="-1.3">−5</tspan><tspan dy="1.3"> M 2,2′-bipyridine</tspan></text>
<text x="323.9" y="181.06" font-size="3.5" text-anchor="start" fill="#2a2a2a" textLength="42.3" lengthAdjust="spacingAndGlyphs">+ 10<tspan font-size="2.3" dy="-1.3">−5</tspan><tspan dy="1.3"> M 2,3′-bipyridine</tspan></text>
<text x="323.9" y="186.16" font-size="3.5" text-anchor="start" fill="#2a2a2a" textLength="41.9" lengthAdjust="spacingAndGlyphs">+ 10<tspan font-size="2.3" dy="-1.3">−5</tspan><tspan dy="1.3"> M 3,3′-bipyridine</tspan></text>
<text x="323.9" y="191.36" font-size="3.5" text-anchor="start" fill="#2a2a2a" textLength="46.6" lengthAdjust="spacingAndGlyphs">+ 10<tspan font-size="2.3" dy="-1.3">−5</tspan><tspan dy="1.3"> M 2,2′-bipyrimidine</tspan></text>
</g>
</svg></body></html>
